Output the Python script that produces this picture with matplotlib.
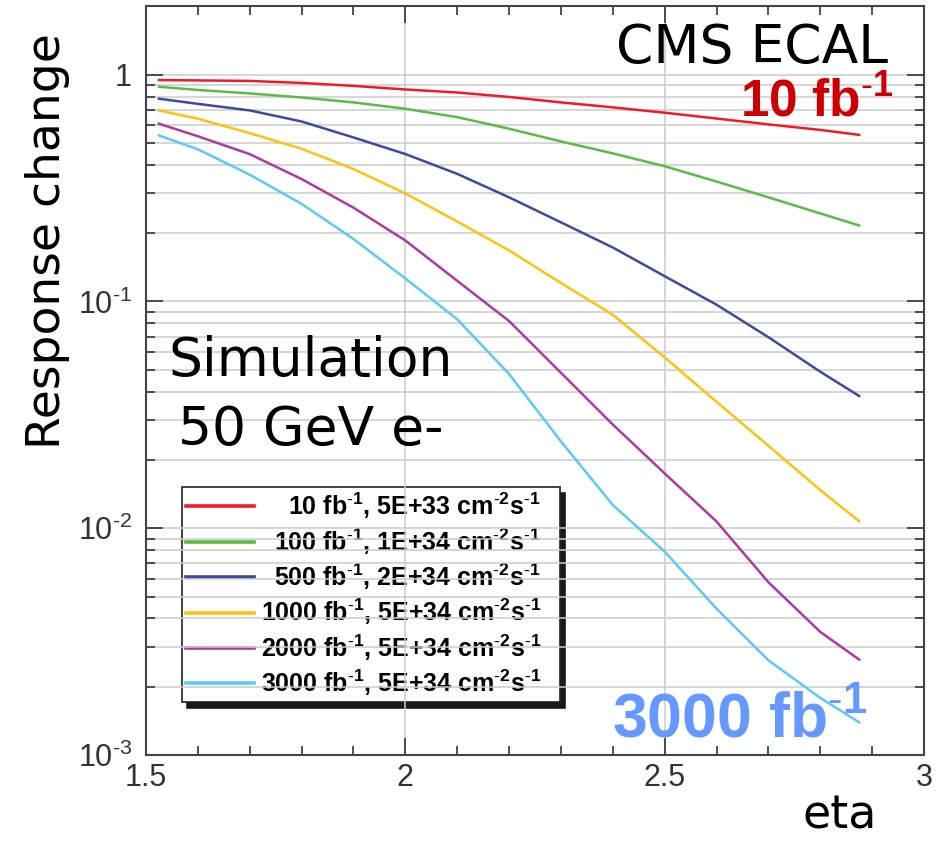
import numpy as np
import matplotlib
matplotlib.use("Agg")
import matplotlib.pyplot as plt
from matplotlib.ticker import LogLocator, FuncFormatter, MultipleLocator, NullFormatter

plt.rcParams['font.family'] = 'Liberation Sans'
plt.rcParams['mathtext.fontset'] = 'custom'
plt.rcParams['mathtext.rm'] = 'Liberation Sans'
plt.rcParams['mathtext.bf'] = 'Liberation Sans:bold'
plt.rcParams['mathtext.default'] = 'regular'

# eta points and response change
eta = [1.525, 1.6, 1.7, 1.8, 1.9, 2.0, 2.1, 2.2, 2.3, 2.4, 2.5, 2.6, 2.7, 2.8, 2.875]

resp_10 = [0.947, 0.944, 0.939, 0.920, 0.893, 0.861, 0.835, 0.798, 0.755, 0.718,
           0.680, 0.641, 0.604, 0.571, 0.543]
resp_100 = [0.885, 0.857, 0.827, 0.794, 0.755, 0.708, 0.650, 0.578, 0.508, 0.450,
            0.395, 0.338, 0.288, 0.2445, 0.2164]
resp_500 = [0.784, 0.744, 0.696, 0.622, 0.529, 0.447, 0.3655, 0.288, 0.2234, 0.173,
            0.1293, 0.0968, 0.0696, 0.0490, 0.0383]
resp_1000 = [0.696, 0.640, 0.5526, 0.4716, 0.384, 0.2995, 0.2254, 0.168, 0.1207, 0.0874,
             0.0567, 0.0361, 0.0231, 0.01474, 0.01074]
resp_2000 = [0.608, 0.5355, 0.4466, 0.3467, 0.2593, 0.1858, 0.1234, 0.0820, 0.0485, 0.02867,
             0.01745, 0.01071, 0.00578, 0.00349, 0.002635]
resp_3000 = [0.540, 0.469, 0.3625, 0.2694, 0.1887, 0.1263, 0.0835, 0.0479, 0.02416, 0.01266,
             0.00789, 0.00442, 0.002616, 0.001786, 0.001394]

series = [resp_10, resp_100, resp_500, resp_1000, resp_2000, resp_3000]

M = r'$^{\text{-}%s}$'
labels = [
    '10 fb' + M % '1' + ', 5E+33 cm' + M % '2' + 's' + M % '1',
    '100 fb' + M % '1' + ', 1E+34 cm' + M % '2' + 's' + M % '1',
    '500 fb' + M % '1' + ', 2E+34 cm' + M % '2' + 's' + M % '1',
    '1000 fb' + M % '1' + ', 5E+34 cm' + M % '2' + 's' + M % '1',
    '2000 fb' + M % '1' + ', 5E+34 cm' + M % '2' + 's' + M % '1',
    '3000 fb' + M % '1' + ', 5E+34 cm' + M % '2' + 's' + M % '1',
]
colors = ['#EE1C25', '#5CBB46', '#3E4A9E', '#FFC20E', '#AE3A9E', '#5BCBF2']

fig = plt.figure(figsize=(9.4, 8.42), dpi=100)
ax = fig.add_axes([0.1553, 0.1033, 0.8277, 0.8896])

for y, lab, col in zip(series, labels, colors):
    ax.plot(eta, y, color=col, lw=1.8, label=lab + '   ')

ax.set_yscale('log')
ax.set_xlim(1.5, 3)
ax.set_ylim(1e-3, 2.01)

ax.xaxis.set_major_locator(MultipleLocator(0.5))
ax.xaxis.set_minor_locator(MultipleLocator(0.1))
ax.xaxis.set_major_formatter(FuncFormatter(lambda v, p: '%g' % v))
ax.yaxis.set_major_locator(LogLocator(base=10, numticks=10))
ax.yaxis.set_minor_locator(LogLocator(base=10, subs=np.arange(2, 10), numticks=20))
ax.yaxis.set_minor_formatter(NullFormatter())


def ylab(v, pos):
    k = int(round(np.log10(v)))
    if k == 0:
        return '1'
    return r'$10^{\text{-}%d}$' % (-k)


ax.yaxis.set_major_formatter(FuncFormatter(ylab))

ax.set_axisbelow(True)
ax.grid(True, which='both', axis='y', color='#cccccc', lw=1.1)
ax.grid(True, which='major', axis='x', color='#cccccc', lw=1.1)

ax.tick_params(which='both', direction='in', top=True, right=True,
               color='#333333', labelcolor='#333333', labelsize=22, width=1.2)
ax.tick_params(which='major', length=12)
ax.tick_params(which='minor', length=6.5)
ax.tick_params(axis='x', pad=6)
ax.tick_params(axis='y', pad=10)
for s in ax.spines.values():
    s.set_color('#444444')
    s.set_linewidth(1.5)

ax.set_ylabel('Response change', family='DejaVu Sans', fontsize=34)
ax.yaxis.set_label_coords(-0.098, 0.686)
ax.set_xlabel('eta', family='DejaVu Sans', fontsize=33)
ax.xaxis.set_label_coords(0.892, -0.0975)
ax.xaxis.label.set_va('baseline')

ax.text(0.9537, 0.9235, 'CMS ECAL', transform=ax.transAxes, ha='right', va='baseline',
        family='DejaVu Sans', fontsize=38.5)
ax.text(0.212, 0.506, 'Simulation', transform=ax.transAxes, ha='center', va='baseline',
        family='DejaVu Sans', fontsize=38.5)
ax.text(0.212, 0.414, '50 GeV e-', transform=ax.transAxes, ha='center', va='baseline',
        family='DejaVu Sans', fontsize=38.5)
ax.text(0.960, 0.8518, '10 fb' + M % '1', transform=ax.transAxes, ha='right', va='baseline',
        color='#CC0000', fontweight='bold', fontsize=37, zorder=5)
ax.text(0.928, 0.024, '3000 fb' + M % '1', transform=ax.transAxes, ha='right', va='baseline',
        color='#6699FF', fontweight='bold', fontsize=45, zorder=5)

leg = ax.legend(loc='lower left', bbox_to_anchor=(0.046, 0.0708), borderaxespad=0,
                prop={'family': 'Liberation Sans', 'weight': 'bold', 'size': 18},
                handlelength=2.75, handletextpad=0.25, labelspacing=0.2, borderpad=0.15,
                fancybox=False, edgecolor='#222222', framealpha=1,
                shadow={'ox': 4, 'oy': -4, 'facecolor': '#1a1a1a',
                        'edgecolor': '#1a1a1a', 'alpha': 1})
leg.get_frame().set_linewidth(1.2)
leg.set_zorder(0.3)
for l in leg.get_lines():
    l.set_linewidth(2.6)

# right-align the legend texts
fig.canvas.draw()
r = fig.canvas.get_renderer()
texts = leg.get_texts()
widths = [t.get_window_extent(r).width for t in texts]
wmax = max(widths)
for t, w in zip(texts, widths):
    t.set_position((wmax - w, 0))

fig.savefig('out.png', dpi=100)
